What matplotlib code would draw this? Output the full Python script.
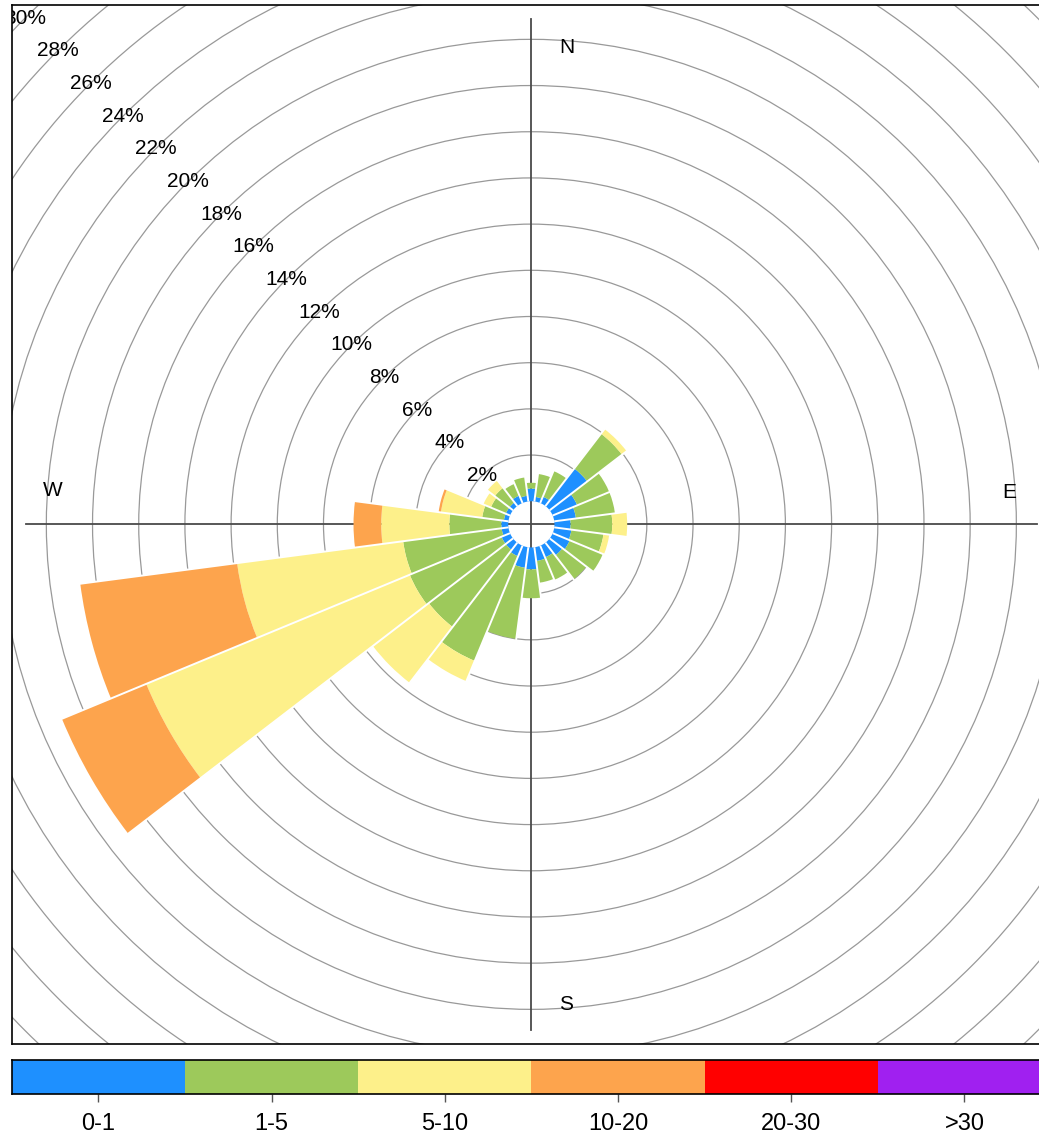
import matplotlib.pyplot as plt
import numpy as np
from matplotlib.patches import Wedge, Circle

# wind directions (bin centres, degrees) and frequency (%) in each speed class
directions = [15, 30, 45, 60, 75, 90, 105, 120, 135, 150, 165, 180,
              195, 210, 225, 240, 255, 270, 285, 300, 315, 330, 345, 360]
speed_0_1 = [0.2, 0.3, 2.05, 1.15, 0.95, 0.7, 0.75, 0.8, 0.7, 0.55, 0.6, 0.95,
             0.9, 0.5, 0.4, 0.4, 0.3, 0.3, 0.2, 0.2, 0.2, 0.35, 0.25, 0.55]
speed_1_5 = [1.0, 1.2, 1.9, 1.5, 1.7, 1.8, 1.4, 1.55, 1.3, 1.05, 0.95, 1.25,
             3.1, 4.9, 4.2, 4.3, 4.3, 2.25, 0.95, 0.7, 0.8, 0.55, 0.8, 0.25]
speed_5_10 = [0, 0, 0.25, 0, 0, 0.65, 0.25, 0, 0, 0, 0, 0,
              0, 0.95, 3.05, 12.35, 7.25, 2.95, 1.8, 0.35, 0.4, 0, 0, 0]
speed_10_20 = [0, 0, 0, 0, 0, 0, 0, 0, 0, 0, 0, 0,
               0, 0, 0, 3.95, 6.85, 1.2, 0.1, 0, 0, 0, 0, 0]
speed_20_30 = [0] * 24
speed_30_up = [0] * 24

classes = ['0-1', '1-5', '5-10', '10-20', '20-30', '>30']
colors = ['#1e90ff', '#9dc95b', '#fdf08a', '#fda44d', '#ff0000', '#a020f0']
rings = list(range(2, 32, 2))

speeds = np.array([speed_0_1, speed_1_5, speed_5_10, speed_10_20, speed_20_30, speed_30_up])
offset = 1.0   # calm circle in the middle
binw = 15.0

fig = plt.figure(figsize=(10.39, 11.43), dpi=100)
plt.rcParams['font.family'] = ['Liberation Sans', 'DejaVu Sans']

ax = fig.add_axes([11.7 / 1039, 99 / 1143, 1039.3 / 1039, 1039.3 / 1143])
ax.set_xlim(-22.5, 22.5)
ax.set_ylim(-22.5, 22.5)
ax.set_xticks([])
ax.set_yticks([])
for s in ax.spines.values():
    s.set_linewidth(1.2)

# grid circles and labels
for r in rings:
    ax.add_patch(Circle((0, 0), offset + r, fill=False, ec='#999999', lw=0.9, zorder=1))
    a = np.radians(135)
    ax.text((offset + r) * np.cos(a), (offset + r) * np.sin(a), f'{r}%',
            ha='center', va='center', fontsize=15, zorder=5, clip_on=True)

# axis cross
ax.plot([0, 0], [-21.9, 21.9], color='#4a4a4a', lw=1.3, zorder=2)
ax.plot([-21.9, 21.9], [0, 0], color='#4a4a4a', lw=1.3, zorder=2)
ax.text(1.55, 20.65, 'N', ha='center', va='center', fontsize=15)
ax.text(1.5, -20.8, 'S', ha='center', va='center', fontsize=15)
ax.text(-20.7, 1.45, 'W', ha='center', va='center', fontsize=15)
ax.text(20.7, 1.4, 'E', ha='center', va='center', fontsize=15)

# stacked bars
cum = np.cumsum(speeds, axis=0)
for i, d in enumerate(directions):
    t1 = 90 - d - binw / 2
    t2 = 90 - d + binw / 2
    for k in range(len(classes)):
        if speeds[k, i] <= 0:
            continue
        outer = offset + cum[k, i]
        ax.add_patch(Wedge((0, 0), outer, t1, t2, width=speeds[k, i],
                           fc=colors[k], ec='none', zorder=3))

# white gaps between neighbouring bars
tot = cum[-1]
for i, d in enumerate(directions):
    j = (i + 1) % len(directions)
    rmax = offset + max(tot[i], tot[j]) + 0.05
    a = np.radians(90 - (d + binw / 2))
    ax.plot([offset * np.cos(a), rmax * np.cos(a)], [offset * np.sin(a), rmax * np.sin(a)],
            color='white', lw=1.4, solid_capstyle='butt', zorder=4)

# colour key
cax = fig.add_axes([11.7 / 1039, 49.5 / 1143, 1039.3 / 1039, 33.5 / 1143])
cax.bar(range(len(classes)), [1] * len(classes), width=1.0, color=colors)
cax.set_xlim(-0.5, len(classes) - 0.5)
cax.set_ylim(0, 1)
cax.set_yticks([])
cax.set_xticks(range(len(classes)))
cax.set_xticklabels(classes, fontsize=17)
cax.tick_params(axis='x', length=6, width=1, pad=8, color='#555555')
for s in cax.spines.values():
    s.set_linewidth(1.2)

fig.savefig('out.png', dpi=100)
